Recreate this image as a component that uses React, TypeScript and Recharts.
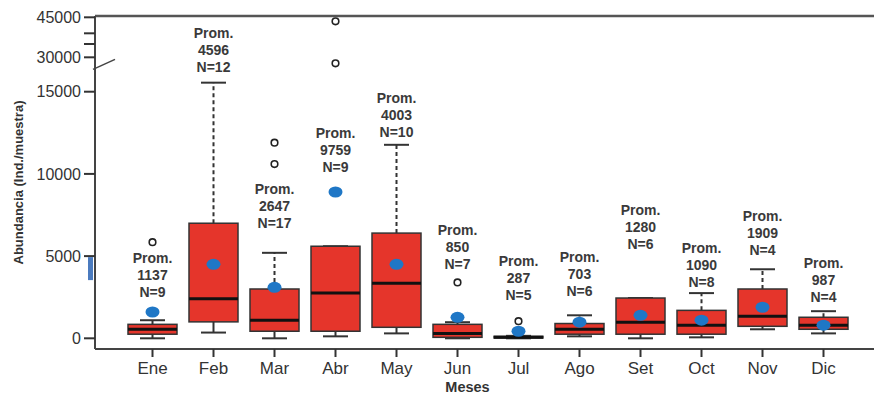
import React from 'react';
import { Bar, ComposedChart, ReferenceLine, Scatter, XAxis, YAxis } from 'recharts';

const FONT = '"Liberation Sans", Arial, sans-serif';

const months = ['Ene', 'Feb', 'Mar', 'Abr', 'May', 'Jun', 'Jul', 'Ago', 'Set', 'Oct', 'Nov', 'Dic'];
const whiskerLow = [0, 350, 0, 120, 300, 0, 0, 120, 0, 60, 550, 300];
const q1 = [250, 1000, 430, 430, 670, 60, 20, 250, 250, 250, 730, 550];
const median = [550, 2400, 1100, 2750, 3350, 300, 60, 550, 980, 800, 1340, 800];
const q3 = [850, 7000, 3000, 5600, 6400, 850, 120, 900, 2450, 1700, 3000, 1280];
const whiskerHigh = [1100, 15550, 5200, 5600, 11770, 980, 150, 1400, 2450, 2750, 4200, 1650];
const meanDot = [1600, 4500, 3100, 8900, 4500, 1280, 430, 980, 1400, 1100, 1890, 800];
const outliers: number[][] = [[5850], [], [10600, 11900], [27750, 43500], [], [3400], [1040], [], [], [], [], []];
const promValues = [1137, 4596, 2647, 9759, 4003, 850, 287, 703, 1280, 1090, 1909, 987];
const nValues = [9, 12, 17, 9, 10, 7, 5, 6, 6, 8, 4, 4];
// value where the last line of each "Prom." note sits
const noteAt = [2500, 16220, 6700, 10120, 12260, 4200, 2320, 2560, 5430, 3110, 5060, 2200];

const yTicks = [0, 5000, 10000, 15000, 30000, 35000, 39000, 45000];
const yTickLabels = ['0', '5000', '10000', '15000', '30000', '', '', '45000'];

// broken axis: everything above the break is squeezed into a short strip on top
const BREAK_FROM = 20000;
const UPPER_BASE = 17092;
const UPPER_K = 0.1622;
const toAxis = (v: number) => (v < BREAK_FROM ? v : UPPER_BASE + (v - 30000) * UPPER_K);
const Y_MIN = -650;
const Y_MAX = 19605;

const yTicksAxis = yTicks.map(toAxis);

const rows = months.map((m, i) => ({
  month: m,
  range: [toAxis(whiskerLow[i]), toAxis(whiskerHigh[i])],
  lo: toAxis(whiskerLow[i]),
  q1: toAxis(q1[i]),
  med: toAxis(median[i]),
  q3: toAxis(q3[i]),
  hi: toAxis(whiskerHigh[i]),
  mean: toAxis(meanDot[i]),
  out1: outliers[i][0] != null ? toAxis(outliers[i][0]) : null,
  out2: outliers[i][1] != null ? toAxis(outliers[i][1]) : null,
  note: toAxis(noteAt[i]),
  prom: promValues[i],
  n: nValues[i],
}));

const BoxShape = (props: any) => {
  const { x, y, width, height, payload } = props;
  if (!payload) return <g />;
  const span = payload.hi - payload.lo;
  const py = (v: number) => (span === 0 ? y : y + (height * (payload.hi - v)) / span);
  const cx = x + width / 2;
  const cap = 25;
  const top = py(payload.q3);
  const bottom = py(payload.q1);
  return (
    <g>
      <line x1={cx} x2={cx} y1={top} y2={py(payload.hi)} stroke="#333" strokeWidth={2} strokeDasharray="4 3" />
      <line x1={cx} x2={cx} y1={bottom} y2={py(payload.lo)} stroke="#333" strokeWidth={2} />
      <line x1={cx - cap / 2} x2={cx + cap / 2} y1={py(payload.hi)} y2={py(payload.hi)} stroke="#333" strokeWidth={2} />
      <line x1={cx - cap / 2} x2={cx + cap / 2} y1={py(payload.lo)} y2={py(payload.lo)} stroke="#333" strokeWidth={2} />
      <rect x={x} y={top} width={width} height={Math.max(bottom - top, 1)} fill="#e5352b" stroke="#333" strokeWidth={1.5} />
      <line x1={x} x2={x + width} y1={py(payload.med)} y2={py(payload.med)} stroke="#111" strokeWidth={3} />
    </g>
  );
};

const MeanDot = (props: any) => {
  const { cx, cy } = props;
  if (cx == null || cy == null || !isFinite(cy)) return <g />;
  return <ellipse cx={cx} cy={cy} rx={7} ry={5.5} fill="#1f77c6" />;
};

const makeOutlier = (key: 'out1' | 'out2') => (props: any) => {
  const { cx, cy, payload } = props;
  if (!payload || payload[key] == null || cy == null || !isFinite(cy)) return <g />;
  return <circle cx={cx} cy={cy} r={3.3} fill="#fff" stroke="#222" strokeWidth={1.6} />;
};

const Note = (props: any) => {
  const { cx, cy, payload } = props;
  if (!payload || cy == null) return <g />;
  const style = { fontFamily: FONT, fontSize: 14, fontWeight: 700, fill: '#3a3a3a' };
  return (
    <g>
      <text x={cx} y={cy - 34} textAnchor="middle" {...style}>Prom.</text>
      <text x={cx} y={cy - 17} textAnchor="middle" {...style}>{payload.prom}</text>
      <text x={cx} y={cy} textAnchor="middle" {...style}>{`N=${payload.n}`}</text>
    </g>
  );
};

const YTick = (props: any) => {
  const { x, y, payload } = props;
  const idx = yTicksAxis.findIndex((t) => Math.abs(t - payload.value) < 0.5);
  const axisX = x + 14;
  return (
    <g>
      <text x={x} y={y} dy="0.355em" textAnchor="end" fontSize={16} fill="#333" fontFamily={FONT}>
        {idx >= 0 ? yTickLabels[idx] : ''}
      </text>
      {yTicks[idx] === 30000 && (
        <line x1={axisX - 2} y1={y + 12} x2={axisX + 20} y2={y + 2} stroke="#444" strokeWidth={1.5} />
      )}
      {yTicks[idx] === 5000 && <rect x={axisX - 7} y={y + 1} width={5} height={23} fill="#4b7bbf" />}
    </g>
  );
};

const YTitle = (props: any) => {
  const vb = props.viewBox || { x: 0, y: 16, width: 95, height: 333 };
  const x = vb.x + 18;
  const y = vb.y + vb.height / 2;
  return (
    <text x={x} y={y} transform={`rotate(-90 ${x} ${y})`} textAnchor="middle" dominantBaseline="central"
      fontFamily={FONT} fontSize={13} fontWeight={700} fill="#333">
      Abundancia (Ind./muestra)
    </text>
  );
};

const XTitle = (props: any) => {
  const vb = props.viewBox || { x: 95, y: 349, width: 779, height: 45 };
  return (
    <text x={vb.x + vb.width / 2 - 17} y={vb.y + vb.height - 2.5} textAnchor="middle"
      fontFamily={FONT} fontSize={14.5} fontWeight={700} fill="#333">
      Meses
    </text>
  );
};

export default function App() {
  return (
    <div style={{ width: 874, height: 394, background: '#fff' }}>
      <style>{'body{margin:0}'}</style>
      <ComposedChart width={874} height={394} data={rows} margin={{ top: 16, right: 0, bottom: 0, left: 0 }}>
        <XAxis
          dataKey="month"
          height={45}
          padding={{ left: 27, right: 20 }}
          interval={0}
          tickSize={8}
          tickMargin={5}
          tick={{ fontSize: 17, fill: '#333', fontFamily: FONT }}
          axisLine={{ stroke: '#444', strokeWidth: 2 }}
          tickLine={{ stroke: '#333', strokeWidth: 2 }}
          label={<XTitle />}
        />
        <YAxis
          type="number"
          domain={[Y_MIN, Y_MAX]}
          ticks={yTicksAxis}
          interval={0}
          allowDataOverflow
          width={95}
          tickSize={11}
          tickMargin={3}
          tick={<YTick />}
          axisLine={{ stroke: '#444', strokeWidth: 2 }}
          tickLine={{ stroke: '#333', strokeWidth: 2 }}
          label={<YTitle />}
        />
        <ReferenceLine y={Y_MAX} stroke="#555" strokeWidth={2.5} />
        <Bar dataKey="range" barSize={49} shape={<BoxShape />} isAnimationActive={false} />
        <Scatter dataKey="mean" shape={<MeanDot />} isAnimationActive={false} />
        <Scatter dataKey="out1" shape={makeOutlier('out1')} isAnimationActive={false} />
        <Scatter dataKey="out2" shape={makeOutlier('out2')} isAnimationActive={false} />
        <Scatter dataKey="note" shape={<Note />} isAnimationActive={false} />
      </ComposedChart>
    </div>
  );
}
